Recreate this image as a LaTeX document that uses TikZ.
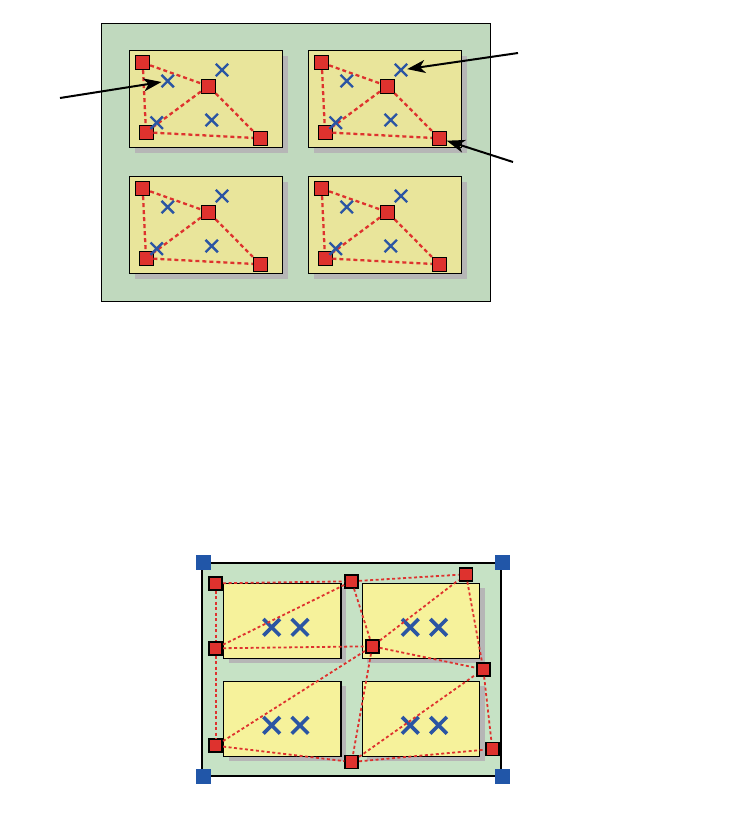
\documentclass[tikz,border=0pt]{standalone}
\usepackage{xcolor}
\definecolor{boardgreen}{RGB}{192, 217, 190}
\definecolor{boardgreenlight}{RGB}{198, 226, 197}
\definecolor{tilekhaki}{RGB}{233, 229, 155}
\definecolor{tileyellow}{RGB}{246, 242, 155}
\definecolor{shadowgray}{RGB}{182, 182, 182}
\definecolor{pinred}{RGB}{222, 50, 46}
\definecolor{crossblue}{RGB}{43, 85, 163}
\definecolor{cornerblue}{RGB}{33, 86, 168}
\usepackage{tikz}
\usetikzlibrary{arrows.meta, positioning, calc, shapes.misc}

\begin{document}
\begin{tikzpicture}[x=1pt, y=-1pt, >={Stealth[length=18pt, width=13pt, inset=5pt]},
    pin/.style={draw=black, line width=0.9pt, fill=pinred, minimum size=14pt, inner sep=0pt},
    bigpin/.style={draw=black, line width=1.8pt, fill=pinred, minimum size=13pt, inner sep=0pt},
    cornerpin/.style={fill=cornerblue, minimum size=15pt, inner sep=0pt},
    xmark/.style={cross out, draw=crossblue, line width=2.4pt, minimum size=10pt, inner sep=0pt},
    bigxmark/.style={cross out, draw=crossblue, line width=3.6pt, minimum size=13pt, inner sep=0pt},
    meshdash/.style={pinred, line width=2.3pt, dash pattern=on 4pt off 3pt},
    meshdot/.style={pinred, line width=1.8pt, dash pattern=on 3pt off 2.5pt},
    pointer/.style={->, line width=2pt, black}]
    \useasboundingbox (0,0) rectangle (741,820);

    % Top board with four tiles
    \draw[fill=boardgreen, line width=1pt] (101.5,23) rectangle (490.5,301);
    \foreach \t/\ox/\oy in {1/0/0, 2/179/0, 3/0/126, 4/179/126} {
        \begin{scope}[shift={(\ox,\oy)}]
            \fill[shadowgray] (135,55.7) rectangle (288.3,152.7);
            \draw[fill=tilekhaki, line width=0.9pt] (129.3,50.3) rectangle (282.7,147.3);
            \node[pin] (sqa\t) at (142.7,62.7) {};
            \node[pin] (sqb\t) at (208.3,86) {};
            \node[pin] (sqc\t) at (146,132.3) {};
            \node[pin] (sqd\t) at (260.3,138.3) {};
            \draw[meshdash] (sqa\t) -- (sqb\t);
            \draw[meshdash] (sqa\t) -- (sqc\t);
            \draw[meshdash] (sqb\t) -- (sqc\t);
            \draw[meshdash] (sqb\t) -- (sqd\t);
            \draw[meshdash] (sqc\t) -- (sqd\t);
            \node[xmark] (crsa\t) at (167.7,81) {};
            \node[xmark] (crsb\t) at (222,70) {};
            \node[xmark] (crsc\t) at (156.7,122.7) {};
            \node[xmark] (crsd\t) at (211.7,120) {};
        \end{scope}
    }

    % Pointers
    \coordinate (leftend) at (60,98);
    \coordinate (upperend) at (518,53);
    \coordinate (lowerend) at (513,162);
    \draw[pointer] (leftend) -- (crsa1);
    \draw[pointer] (upperend) -- (crsb2);
    \draw[pointer] (lowerend) -- (sqd2);

    % Bottom board
    \draw[fill=boardgreenlight, line width=2.2pt] (202.3,562.7) rectangle (501,776);
    \foreach \ox/\oy [count=\k] in {0/0, 138.6/0, 0/98, 138.6/98} {
        \begin{scope}[shift={(\ox,\oy)}]
            \fill[shadowgray] (228.7,588) rectangle (346,663);
            \draw[fill=tileyellow, line width=1.5pt] (223.7,583.3) rectangle (341,658.3);
            \node[bigxmark] (bxa\k) at (271.7,627.3) {};
            \node[bigxmark] (bxb\k) at (300,627.3) {};
        \end{scope}
    }

    % Corner markers
    \node[cornerpin] (cnw) at (203,562.7) {};
    \node[cornerpin] (cne) at (502,562.7) {};
    \node[cornerpin] (csw) at (203,776.3) {};
    \node[cornerpin] (cse) at (502,776.3) {};

    % Mesh points
    \node[bigpin] (pnw) at (215.7,583.3) {};
    \node[bigpin] (pn)  at (351.7,581.3) {};
    \node[bigpin] (pne) at (466,574.3) {};
    \node[bigpin] (pw)  at (215.7,648.3) {};
    \node[bigpin] (pc)  at (372.3,646.3) {};
    \node[bigpin] (pe)  at (483.3,669.3) {};
    \node[bigpin] (psw) at (215.7,745.7) {};
    \node[bigpin] (ps)  at (351.7,762) {};
    \node[bigpin] (pse) at (492.3,749) {};

    \foreach \u/\v in {pnw/pn, pn/pne, pnw/pw, pw/psw, pw/pn, pw/pc, pn/pc, pc/pne,
                       pne/pe, pc/pe, pc/psw, pc/ps, psw/ps, ps/pe, pe/pse, ps/pse}
        \draw[meshdot] (\u) -- (\v);

\end{tikzpicture}
\end{document}
